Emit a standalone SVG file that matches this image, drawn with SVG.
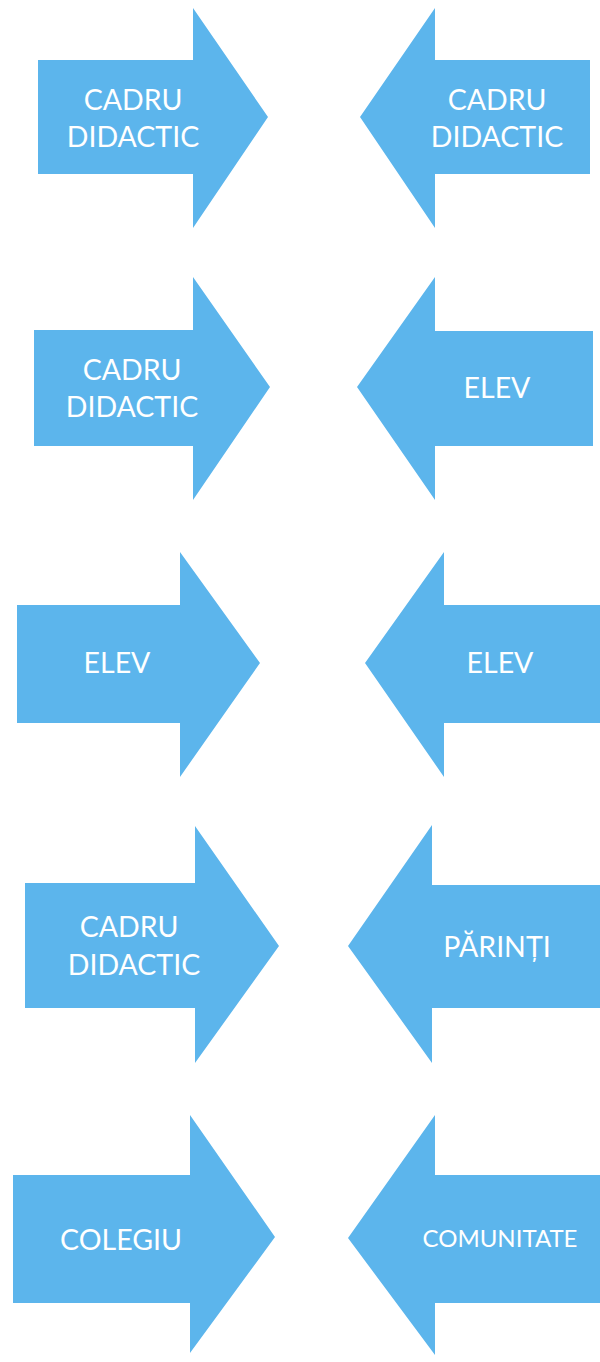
<svg xmlns="http://www.w3.org/2000/svg" width="600" height="1362" viewBox="0 0 600 1362">
<style>
.arrow{fill:#5cb5ec}
.lbl{fill:#ffffff;font-family:Lato,"Open Sans","Liberation Sans",sans-serif;font-size:28.5px;text-anchor:middle}
.sm{font-size:24px}
</style>
<rect width="600" height="1362" fill="#ffffff"/>
<g id="r1-left">
<polygon class="arrow" points="38,60 193,60 193,8 268,117 193,228 193,174 38,174"/>
<text class="lbl" x="133" y="110">CADRU</text>
<text class="lbl" x="133" y="147">DIDACTIC</text>
</g>
<g id="r1-right">
<polygon class="arrow" points="590,60 435,60 435,8 360,117 435,228 435,174 590,174"/>
<text class="lbl" x="497" y="110">CADRU</text>
<text class="lbl" x="497" y="147">DIDACTIC</text>
</g>
<g id="r2-left">
<polygon class="arrow" points="34,330 193,330 193,277 270,387 193,500 193,446 34,446"/>
<text class="lbl" x="132" y="380">CADRU</text>
<text class="lbl" x="132" y="417">DIDACTIC</text>
</g>
<g id="r2-right">
<polygon class="arrow" points="593,331 435,331 435,277 357,387 435,500 435,446 593,446"/>
<text class="lbl" x="497" y="398">ELEV</text>
</g>
<g id="r3-left">
<polygon class="arrow" points="17,605 180,605 180,552 260,663 180,777 180,723 17,723"/>
<text class="lbl" x="117" y="673">ELEV</text>
</g>
<g id="r3-right">
<polygon class="arrow" points="600,605 444,605 444,552 365,663 444,777 444,723 600,723"/>
<text class="lbl" x="500" y="673">ELEV</text>
</g>
<g id="r4-left">
<polygon class="arrow" points="25,883 195,883 195,826 279,946 195,1063 195,1008 25,1008"/>
<text class="lbl" x="129" y="937">CADRU</text>
<text class="lbl" x="134" y="975">DIDACTIC</text>
</g>
<g id="r4-right">
<polygon class="arrow" points="600,885 432,885 432,825 348,946 432,1063 432,1008 600,1008"/>
<text class="lbl" x="497" y="957">PĂRINȚI</text>
</g>
<g id="r5-left">
<polygon class="arrow" points="13,1175 190,1175 190,1115 275,1237 190,1353 190,1303 13,1303"/>
<text class="lbl" x="121" y="1250">COLEGIU</text>
</g>
<g id="r5-right">
<polygon class="arrow" points="600,1175 435,1175 435,1115 348,1238 435,1355 435,1303 600,1303"/>
<text class="lbl sm" x="500" y="1247">COMUNITATE</text>
</g>
</svg>
